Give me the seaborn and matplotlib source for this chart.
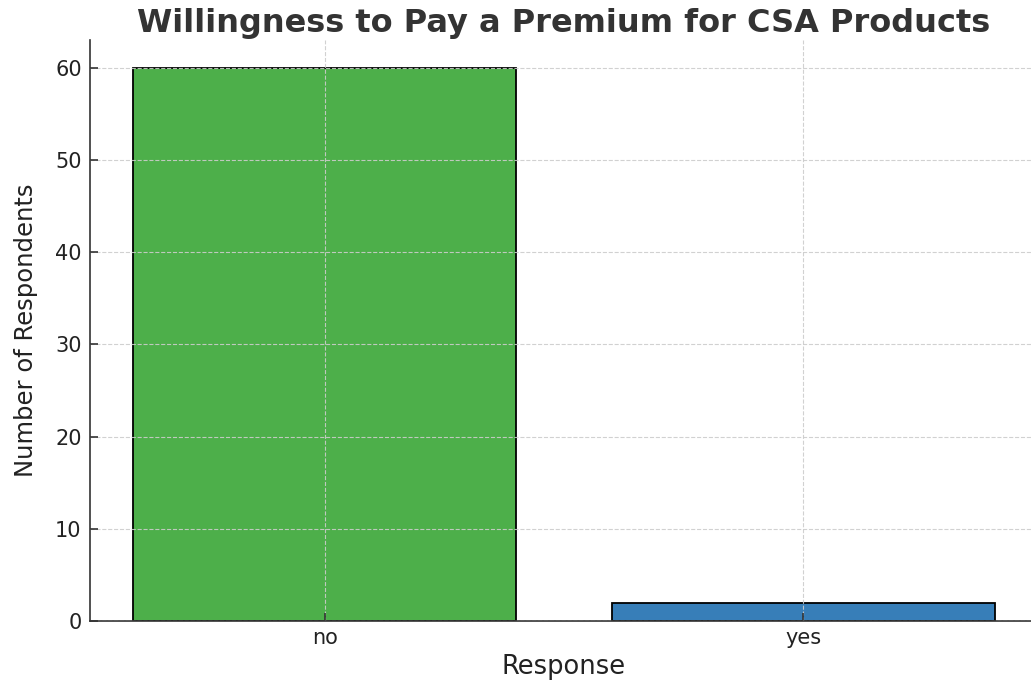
import matplotlib
matplotlib.use("Agg")
import matplotlib.pyplot as plt
import seaborn as sns
import pandas as pd

categories = ["no", "yes"]
counts = [60, 2]
bar_colors = ["#4daf4a", "#377eb8"]

title = "Willingness to Pay a Premium for CSA Products"
xlabel = "Response"
ylabel = "Number of Respondents"

sns.set_theme(style="white")
plt.rcParams["font.family"] = ["DejaVu Sans"]

df = pd.DataFrame({"Response": categories, "Count": counts})

fig = plt.figure(figsize=(10.31, 6.81), dpi=100)
ax = fig.add_axes([90 / 1031, 60 / 681, 948 / 1031, 581 / 681])

sns.barplot(data=df, x="Response", y="Count", hue="Response",
            palette=dict(zip(categories, bar_colors)), order=categories,
            width=0.8, edgecolor="black", linewidth=1.3, saturation=1,
            legend=False, ax=ax)

ax.set_xlim(-0.49, 1.49)
ax.set_ylim(0, 63)
ax.set_yticks([0, 10, 20, 30, 40, 50, 60])

ax.grid(True, linestyle="--", color="#cccccc", linewidth=0.8, alpha=0.9)
ax.set_axisbelow(False)

for s in ["top", "right"]:
    ax.spines[s].set_visible(False)
for s in ["left", "bottom"]:
    ax.spines[s].set_color("#333333")
    ax.spines[s].set_linewidth(1.2)

ax.tick_params(axis="both", which="major", labelsize=15, colors="#333333",
               length=6, width=1.2, direction="in", pad=6,
               left=True, bottom=True)
ax.tick_params(axis="x", labelcolor="#222222", pad=5)
ax.tick_params(axis="y", labelcolor="#222222")

ax.set_xlabel(xlabel, fontsize=18.5, color="#222222", labelpad=4)
ax.set_ylabel(ylabel, fontsize=17.5, color="#222222", labelpad=12)
ax.set_title(title, fontsize=23, fontweight="bold", color="#333333", pad=6)

fig.savefig("out.png", dpi=100)
